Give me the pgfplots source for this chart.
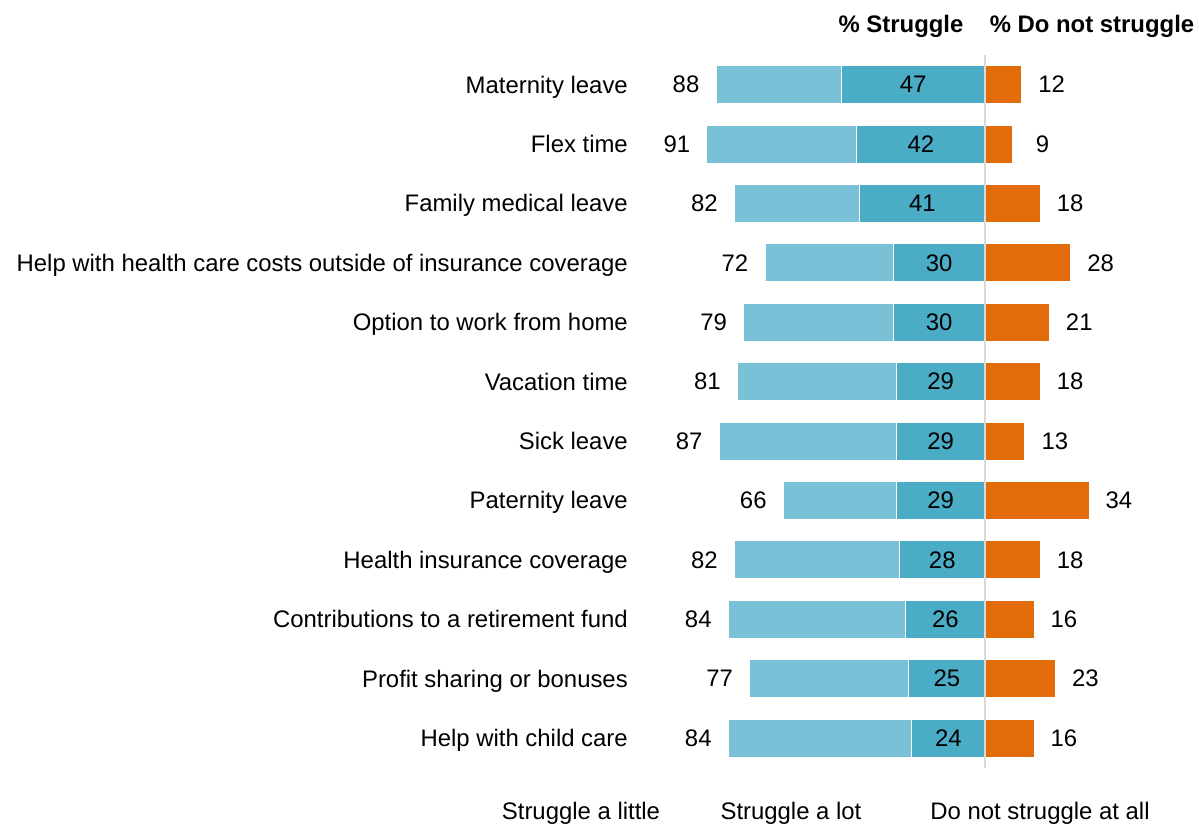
\documentclass[border=0pt]{standalone}
\usepackage{pgfplots}
\pgfplotsset{compat=1.18}
\usepackage{pgfplotstable}
\usepackage{fontspec}
\setmainfont{Liberation Sans}
\definecolor{lightb}{HTML}{7AC0D6}
\definecolor{darkb}{HTML}{4BACC6}
\definecolor{orng}{HTML}{E36C0A}
\definecolor{zline}{HTML}{D9D9D9}
\pgfplotstableread{
y total lot dns
1 88 47 12
2 91 42 9
3 82 41 18
4 72 30 28
5 79 30 21
6 81 29 18
7 87 29 13
8 66 29 34
9 82 28 18
10 84 26 16
11 77 25 23
12 84 24 16
}\data
\newcommand{\fs}{\fontsize{23.9}{28}\selectfont}
\begin{document}
\begin{tikzpicture}
\path[use as bounding box] (-628pt,-57.3pt) rectangle (571pt,767.7pt);
\begin{axis}[
  scale only axis,
  width=571.05pt, height=712.8pt,
  xmin=-116.8, xmax=70,
  ymin=0.5, ymax=12.5,
  y dir=reverse,
  axis line style={draw=none},
  xtick=\empty,
  ytick={1,...,12},
  yticklabels={Maternity leave,Flex time,Family medical leave,Help with health care costs outside of insurance coverage,Option to work from home,Vacation time,Sick leave,Paternity leave,Health insurance coverage,Contributions to a retirement fund,Profit sharing or bonuses,Help with child care},
  major tick length=0pt,
  yticklabel style={font=\fs, inner sep=0pt, anchor=base east, yshift=-8.5pt},
  /pgf/number format/assume math mode=true,
  clip=false,
]
\addplot[xbar, bar shift=0pt, bar width=38pt, fill=lightb, draw=white, line width=0.8pt,
  point meta=explicit, nodes near coords,
  nodes near coords style={anchor=center, xshift=-30pt, font=\fs, text=black}]
  table[x expr=-\thisrow{total}, y=y, meta=total] {\data};
\addplot[xbar, bar shift=0pt, bar width=38pt, fill=darkb, draw=white, line width=0.8pt]
  table[x expr=-\thisrow{lot}, y=y] {\data};
\addplot[xbar, bar shift=0pt, bar width=38pt, fill=orng, draw=white, line width=0.8pt,
  point meta=explicit, nodes near coords,
  nodes near coords style={anchor=center, xshift=30pt, font=\fs, text=black}]
  table[x=dns, y=y, meta=dns] {\data};
\addplot[draw=none, mark=none, point meta=explicit, nodes near coords,
  nodes near coords style={anchor=center, font=\fs, text=black}]
  table[x expr=-\thisrow{lot}/2, y=y, meta=lot] {\data};
\draw[zline, line width=1.6pt] (axis cs:0,0.5) -- (axis cs:0,12.5);
\end{axis}
\node[font=\fs\bfseries] at (273pt,741pt) {\% Struggle};
\node[font=\fs\bfseries] at (464pt,741pt) {\% Do not struggle};
\node[font=\fs] at (-47pt,-45.5pt) {Struggle a little};
\node[font=\fs] at (163pt,-45.5pt) {Struggle a lot};
\node[font=\fs] at (412pt,-45.5pt) {Do not struggle at all};
\end{tikzpicture}
\end{document}
